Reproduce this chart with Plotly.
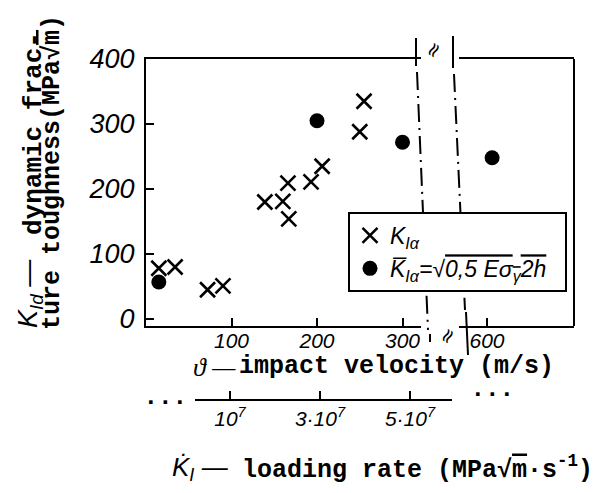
import plotly.graph_objects as go

# ---- data ----
cross_v = [15, 34, 72, 90, 139, 160, 166, 167, 193, 206, 250, 255]      # impact velocity, m/s
cross_k = [78, 80, 45, 51, 180, 181, 209, 154, 211, 235, 288, 335]      # K_Id, MPa*sqrt(m)
dot_v = [15, 200, 300, 606]
dot_k = [57, 305, 272, 248]
v_ticks_left = [100, 200, 300]
v_ticks_right = [600]
y_ticks = [0, 100, 200, 300, 400]
rate_ticks = [1e7, 3e7, 5e7]
rate_labels = ["10<sup>7</sup>", "3·10<sup>7</sup>", "5·10<sup>7</sup>"]

W, H = 610, 493
ML, MR, MT, MB = 146, 36, 59, 93
PW, PH = W - ML - MR, H - MT - MB


def px(x):
    return (x - ML) / PW


def py(y):
    return (H - MB - y) / PH


BREAK = 320
dl_v = [v for v in dot_v if v <= BREAK]
dl_k = [k for v, k in zip(dot_v, dot_k) if v <= BREAK]
dr_v = [v for v in dot_v if v > BREAK]
dr_k = [k for v, k in zip(dot_v, dot_k) if v > BREAK]

fig = go.Figure()
cross_marker = dict(symbol="x-thin-open", size=15, color="black", line=dict(width=2.6, color="black"))
dot_marker = dict(symbol="circle", size=15, color="black")

fig.add_trace(go.Scatter(x=cross_v, y=cross_k, mode="markers", marker=cross_marker,
                         name="<i>K<sub>Iα</sub></i>", xaxis="x", yaxis="y"))
fig.add_trace(go.Scatter(x=dl_v, y=dl_k, mode="markers", marker=dot_marker, legendgroup="d",
                         name="<i>K̅<sub>Iα</sub>=√<span style='text-decoration:overline'>0,5 Eσ<sub>γ</sub>2h</span></i>\u00a0\u00a0",
                         xaxis="x", yaxis="y"))
fig.add_trace(go.Scatter(x=dr_v, y=dr_k, mode="markers", marker=dot_marker, legendgroup="d",
                         showlegend=False, xaxis="x2", yaxis="y"))
fig.add_trace(go.Scatter(x=[rate_ticks[0]], y=[None], mode="markers", showlegend=False,
                         hoverinfo="skip", xaxis="x3", yaxis="y"))

tickfont = dict(family="Liberation Sans", size=21, color="black", style="italic")
ax_common = dict(showgrid=False, zeroline=False, showline=True, linecolor="black", linewidth=2,
                 ticks="inside", ticklen=8, tickwidth=2, tickcolor="black", tickfont=tickfont)

y_bottom = -10.8
fig.update_layout(
    width=W, height=H, margin=dict(l=ML, r=MR, t=MT, b=MB),
    paper_bgcolor="white", plot_bgcolor="rgba(0,0,0,0)",
    xaxis=dict(domain=[0, px(421)], range=[0, (421 - ML) / 0.855], tickvals=v_ticks_left,
               anchor="y", mirror=True, ticklabelstandoff=-5, **ax_common),
    xaxis2=dict(domain=[px(459), 1], range=[600 - (487 - 459) / 0.855, 600 + (574 - 487) / 0.855],
                tickvals=v_ticks_right, anchor="y", mirror=True, ticklabelstandoff=-5, **ax_common),
    xaxis3=dict(domain=[px(195), px(452)], range=[(195 - 185) / 45e-7, (452 - 185) / 45e-7],
                tickvals=rate_ticks, ticktext=rate_labels, anchor="free", position=0, **ax_common),
    yaxis=dict(domain=[py(326), 1], range=[y_bottom, 400], tickvals=y_ticks, anchor="x",
               ticklabelstandoff=4, **{**ax_common, "tickfont": dict(tickfont, size=27)}),
    showlegend=True,
    legend=dict(x=px(348), y=py(212), xanchor="left", yanchor="top", bgcolor="white",
                bordercolor="black", borderwidth=2,
                font=dict(family="Liberation Sans", size=23, color="black"),
                itemsizing="trace", tracegroupgap=0),
)

shapes = []
line_solid = dict(color="black", width=2)
line_dd = dict(color="black", width=2, dash="18px,6px,2px,6px")
# right frame edge
shapes.append(dict(type="line", xref="paper", yref="paper", x0=1, x1=1, y0=py(326), y1=1, line=line_solid))
# axis break marks
shapes.append(dict(type="line", xref="paper", yref="paper", x0=px(416), x1=px(416), y0=py(38), y1=py(66), line=line_solid))
shapes.append(dict(type="line", xref="paper", yref="paper", x0=px(417), x1=px(428), y0=py(72), y1=py(330), line=line_dd))
shapes.append(dict(type="line", xref="paper", yref="paper", x0=px(430), x1=px(430), y0=py(334), y1=py(342), line=line_solid))
shapes.append(dict(type="line", xref="paper", yref="paper", x0=px(453), x1=px(453), y0=py(36), y1=py(68), line=line_solid))
shapes.append(dict(type="line", xref="paper", yref="paper", x0=px(454), x1=px(465), y0=py(74), y1=py(310), line=line_dd))
shapes.append(dict(type="line", xref="paper", yref="paper", x0=px(466), x1=px(468), y0=py(312), y1=py(355), line=line_solid))
fig.update_layout(shapes=shapes)

mono = "Liberation Mono"
ann = []


def add(text, x, y, size, family, angle=0, xanchor="center", bold=False, italic=False):
    ann.append(dict(text=text, x=px(x), y=py(y), xref="paper", yref="paper", showarrow=False,
                    xanchor=xanchor, yanchor="middle", textangle=angle,
                    font=dict(family=family, size=size, color="black",
                              weight="bold" if bold else "normal",
                              style="italic" if italic else "normal")))


# y axis title
add("K<sub>Id</sub> —", 30, 294, 27, "Liberation Sans", angle=-90, italic=True)
add("dynamic frac-", 34, 134, 26, mono, angle=-90, bold=True)
add("ture toughness(MPa√<span style='text-decoration:overline'>m</span>)", 52, 173, 25, mono, angle=-90, bold=True)
# x axis title
add("ϑ —", 214, 367, 26, "Liberation Serif", italic=True)
add("impact velocity (m/s)", 396, 366, 25, mono, bold=True)
# loading rate title
add("K̇<sub>I</sub> —", 200, 468, 26, "Liberation Sans", italic=True)
add("loading rate (MPa√<span style='text-decoration:overline'>m</span>·s<sup>-1</sup>)", 240, 468, 25, mono,
    xanchor="left", bold=True)
# break symbols and continuation dots
add("≈", 433, 50, 20, "DejaVu Sans", angle=-60)
add("≈", 447, 336, 20, "DejaVu Sans", angle=-60)
add("· · ·", 165, 402, 20, "DejaVu Sans", bold=True)
add("· · ·", 492, 394, 20, "DejaVu Sans", bold=True)
fig.update_layout(annotations=ann)

fig.write_html("out.html", config={"displayModeBar": False},
               post_script="document.body.style.margin='0';")
